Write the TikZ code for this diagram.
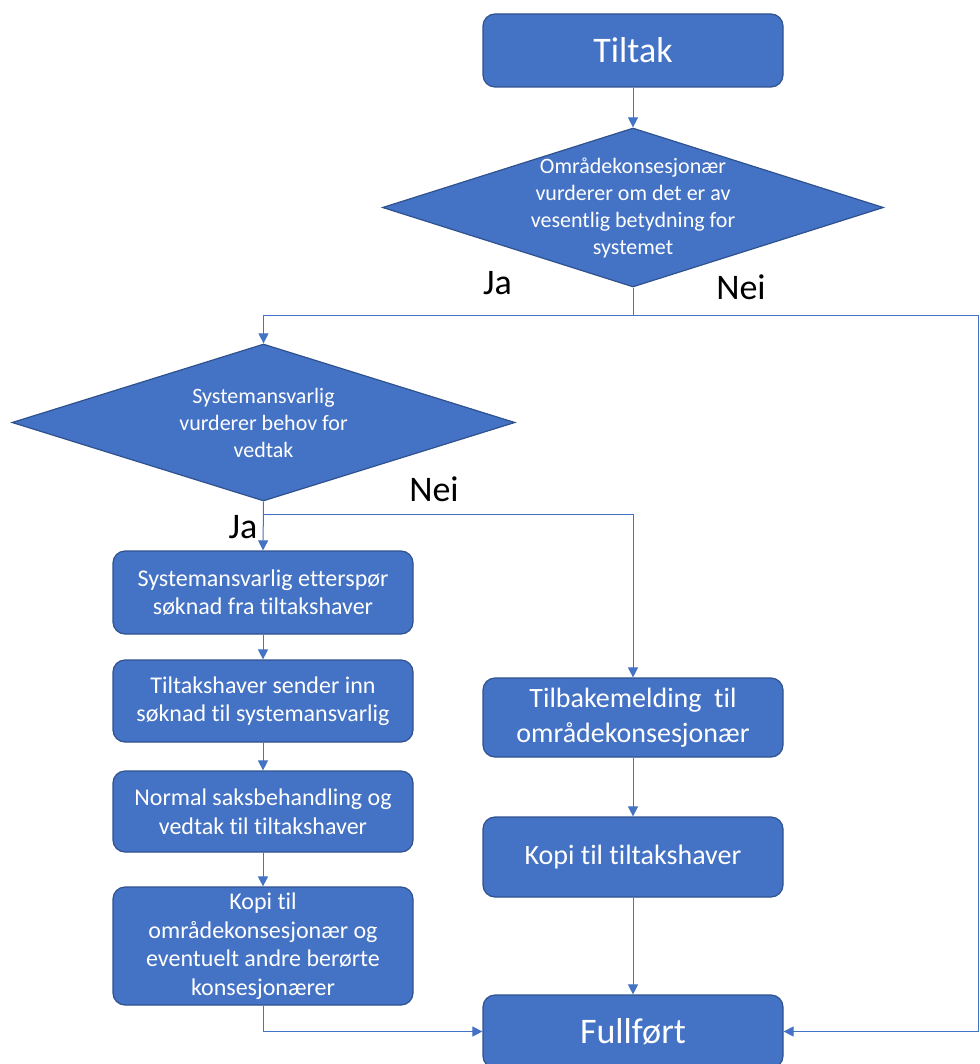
\documentclass[tikz,border=0pt]{standalone}
\usepackage{fontspec}
\setmainfont{Carlito}[Ligatures=NoCommon]
\usetikzlibrary{shapes.geometric, arrows.meta}
\definecolor{boxblue}{HTML}{4472C4}
\definecolor{boxedge}{HTML}{2F528F}

\begin{document}
\begin{tikzpicture}
                \tikzset{x=1pt, y=-1pt, >={Triangle[length=10pt, width=10pt]}}
                \tikzstyle{proc}=[rectangle, rounded corners=12pt, draw=boxedge, line width=1.2pt, fill=boxblue, text=white, align=center, minimum width=300pt, inner sep=0pt, font=\fontsize{24}{28.5}\selectfont]
                \tikzstyle{ends}=[proc, minimum height=73pt, font=\fontsize{36}{44}\selectfont]
                \tikzstyle{side}=[proc, font=\fontsize{28}{35}\selectfont]
                \tikzstyle{check}=[diamond, draw=boxedge, line width=1.2pt, fill=boxblue, inner sep=0pt]
                \tikzstyle{checktext}=[text=white, align=center, font=\fontsize{22}{27}\selectfont]
                \tikzstyle{flow}=[draw=boxblue, line width=1pt]
                \tikzstyle{answer}=[font=\fontsize{36}{44}\selectfont]

                \useasboundingbox (0, 0) rectangle (979, 1064);

                % start
                \draw (633, 50.5)   node[ends, minimum height=73pt]   (tiltak)  {Tiltak};

                % first question
                \draw (633, 207.5)  node[check, minimum width=501pt, minimum height=159pt] (d1) {};
                \draw (d1.center)   node[checktext] (d1t) {Områdekonsesjonær\\vurderer om det er av\\vesentlig betydning for\\systemet};

                % second question
                \draw (263.5, 422.5) node[check, minimum width=503pt, minimum height=157pt] (d2) {};
                \draw (d2.center)   node[checktext] (d2t) {Systemansvarlig\\vurderer behov for\\vedtak};

                % left column
                \draw (263, 592.5)  node[proc, minimum height=83pt]  (s1)  {Systemansvarlig etterspør\\søknad fra tiltakshaver};
                \draw (263, 701)    node[proc, minimum height=82pt]  (s2)  {Tiltakshaver sender inn\\søknad til systemansvarlig};
                \draw (263, 811.5)  node[proc, minimum height=81pt]  (s3)  {Normal saksbehandling og\\vedtak til tiltakshaver};
                \draw (263, 946)    node[proc, minimum height=118pt] (s4)  {Kopi til\\områdekonsesjonær og\\eventuelt andre berørte\\konsesjonærer};

                % right column
                \draw (633, 717.5)  node[side, minimum height=79pt]  (r1)  {Tilbakemelding\ \ til\\områdekonsesjonær};
                \draw (633, 857)    node[side, minimum height=80pt]  (r2)  {Kopi til tiltakshaver};

                % end
                \draw (633, 1031.5) node[ends]  (fullfort)  {Fullført};

                % answers
                \draw (497.5, 283)  node[answer]  (ja1)   {Ja};
                \draw (741, 287)    node[answer]  (nei1)  {Nei};
                \draw (434, 489)    node[answer]  (nei2)  {Nei};
                \draw (243, 527)    node[answer]  (ja2)   {Ja};

                % junctions
                \coordinate (j1) at (633, 315);
                \coordinate (jl) at (263.5, 315);
                \coordinate (jr) at (978.5, 315);
                \coordinate (j2) at (263.5, 514);

                % connectors
                \draw [flow, ->]    (tiltak) -- (d1);
                \draw [flow]        (d1.south) -- (j1);
                \draw [flow]        (jl) -- (jr);
                \draw [flow, ->]    (jl) -- (d2.north);
                \draw [flow, ->]    (jr) |- (fullfort.east);
                \draw [flow, ->]    (d2.south) -- (s1.north);
                \draw [flow, ->]    (j2) -| (r1.north);
                \draw [flow, ->]    (s1) -- (s2);
                \draw [flow, ->]    (s2) -- (s3);
                \draw [flow, ->]    (s3) -- (s4);
                \draw [flow, ->]    (s4.south) |- (fullfort.west);
                \draw [flow, ->]    (r1) -- (r2);
                \draw [flow, ->]    (r2) -- (fullfort);
            \end{tikzpicture}
\end{document}
